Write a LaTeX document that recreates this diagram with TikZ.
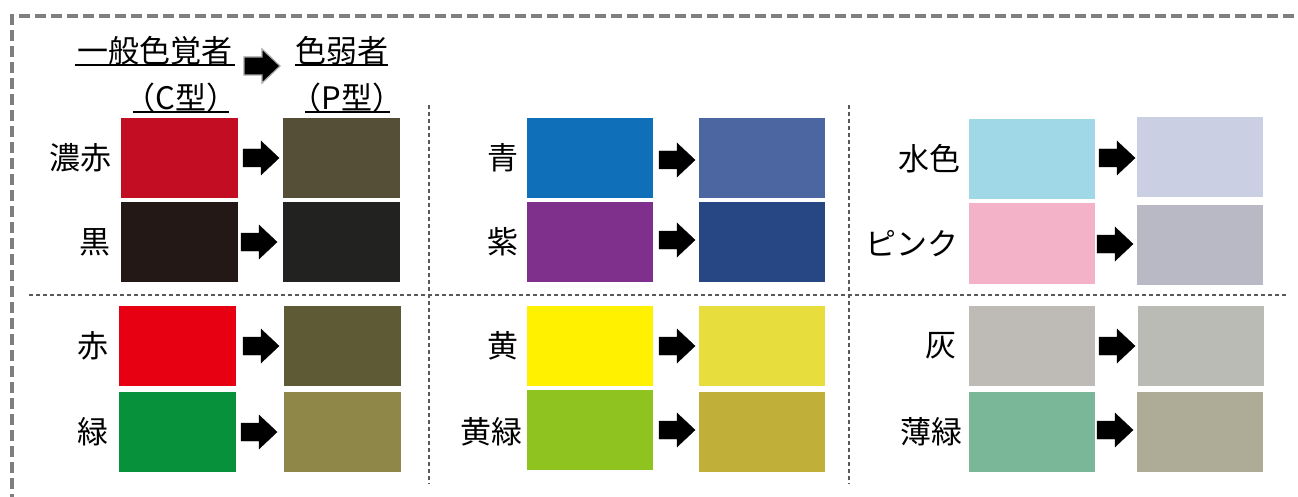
\documentclass[tikz,border=0pt]{standalone}
\usepackage{fontspec}
\setmainfont{Noto Sans CJK JP}
\definecolor{cBorder}{HTML}{7F7F7F}
\definecolor{cDiv}{HTML}{595959}
\definecolor{aA}{HTML}{C30D23}\definecolor{aB}{HTML}{544F36}
\definecolor{bA}{HTML}{231815}\definecolor{bB}{HTML}{222220}
\definecolor{cA}{HTML}{E60012}\definecolor{cB}{HTML}{5F5A36}
\definecolor{dA}{HTML}{07913A}\definecolor{dB}{HTML}{8E8747}
\definecolor{eA}{HTML}{0F6FB8}\definecolor{eB}{HTML}{4C66A2}
\definecolor{fA}{HTML}{7F2F8C}\definecolor{fB}{HTML}{264784}
\definecolor{gA}{HTML}{FFF100}\definecolor{gB}{HTML}{E7DD3C}
\definecolor{hA}{HTML}{8FC31F}\definecolor{hB}{HTML}{C0B03A}
\definecolor{iA}{HTML}{A0D8E8}\definecolor{iB}{HTML}{CBCFE3}
\definecolor{jA}{HTML}{F4B2C9}\definecolor{jB}{HTML}{B8B9C5}
\definecolor{kA}{HTML}{BEBAB6}\definecolor{kB}{HTML}{BABBB4}
\definecolor{lA}{HTML}{7AB698}\definecolor{lB}{HTML}{AEAC96}
\newcommand\blkarrow[3][black]{\filldraw[#1] (#2,#3) ++(0,-9) -- ++(18,0) -- ++(0,-8) -- ++(18,17) -- ++(-18,17) -- ++(0,-8) -- ++(-18,0) -- cycle;}
\begin{document}
\begin{tikzpicture}[x=1pt,y=-1pt,
  swatch/.style={rectangle,draw=none,inner sep=0pt,minimum height=80pt},
  narrow/.style={minimum width=117pt},
  wide/.style={minimum width=126pt},
  lbl/.style={anchor=east,inner sep=0pt,font=\fontsize{31}{31}\selectfont},
  head/.style={anchor=base,inner sep=0pt,font=\fontsize{31}{31}\selectfont},
  uline/.style={line width=2pt,black},
  divider/.style={cDiv,line width=1.2pt,dash pattern=on 4pt off 3pt},
  border/.style={cBorder,line width=3.5pt,dash pattern=on 11pt off 5pt}]
\useasboundingbox (0,0) rectangle (1298,497);
\clip (0,0) rectangle (1298,497);
\fill[white] (0,0) rectangle (1298,497);
% outer border
\draw[border] (1310,16) -- (12,16) -- (12,510);
% dividers
\draw[divider] (29,295) -- (1286,295);
\draw[divider] (429,105) -- (429,484);
\draw[divider] (849,105) -- (849,484);
% header
\node[head] (h1) at (155,63) {一般色覚者};
\node[head] (h2) at (181,110) {（C型）};
\node[head] (h3) at (341.5,63) {色弱者};
\node[head] (h4) at (347,110) {（P型）};
\draw[uline] (75,65.5) -- (235,65.5);
\draw[uline] (133,112.5) -- (229,112.5);
\draw[uline] (295,65.5) -- (388,65.5);
\draw[uline] (305,112.5) -- (390,112.5);
\blkarrow[draw=gray!70,fill=black,line width=1.2pt]{244}{66}
% group 1
\node[swatch,narrow,fill=aA] (a1) at (179.5,158) {};
\node[swatch,narrow,fill=aB] (a2) at (341.5,158) {};
\node[swatch,narrow,fill=bA] (b1) at (179.5,242) {};
\node[swatch,narrow,fill=bB] (b2) at (341.5,242) {};
\node[swatch,narrow,fill=cA] (c1) at (177,346) {};
\node[swatch,narrow,fill=cB] (c2) at (342.5,346) {};
\node[swatch,narrow,fill=dA] (d1) at (177,432) {};
\node[swatch,narrow,fill=dB] (d2) at (342.5,432) {};
\node[lbl] (la) at (112,158) {濃赤};
\node[lbl] (lb) at (111,242) {黒};
\node[lbl] (lc) at (109,346) {赤};
\node[lbl] (ld) at (109,432) {緑};
\blkarrow{243}{158}
\blkarrow{241}{242}
\blkarrow{243}{346}
\blkarrow{241}{432}
% group 2
\node[swatch,wide,fill=eA] (e1) at (590,158) {};
\node[swatch,wide,fill=eB] (e2) at (762,158) {};
\node[swatch,wide,fill=fA] (f1) at (590,242) {};
\node[swatch,wide,fill=fB] (f2) at (762,242) {};
\node[swatch,wide,fill=gA] (g1) at (589.5,346) {};
\node[swatch,wide,fill=gB] (g2) at (761.5,346) {};
\node[swatch,wide,fill=hA] (h1s) at (589.5,430) {};
\node[swatch,wide,fill=hB] (h2s) at (761.5,432) {};
\node[lbl] (le) at (519,158) {青};
\node[lbl] (lf) at (519,242) {紫};
\node[lbl] (lg) at (519,346) {黄};
\node[lbl] (lh) at (523,432) {黄緑};
\blkarrow{659}{160}
\blkarrow{659}{240}
\blkarrow{659}{346}
\blkarrow{659}{430}
% group 3
\node[swatch,wide,fill=iA] (i1) at (1032,159.5) {};
\node[swatch,wide,fill=iB] (i2) at (1200,157.5) {};
\node[swatch,wide,fill=jA] (j1) at (1032,243.5) {};
\node[swatch,wide,fill=jB] (j2) at (1200,245) {};
\node[swatch,wide,fill=kA] (k1) at (1031.5,346) {};
\node[swatch,wide,fill=kB] (k2) at (1200.5,346) {};
\node[swatch,wide,fill=lA] (l1) at (1032,432) {};
\node[swatch,wide,fill=lB] (l2) at (1200,432) {};
\node[lbl] (li) at (961,159) {水色};
\node[lbl] (lj) at (959,244) {ピンク};
\node[lbl] (lk) at (957,346) {灰};
\node[lbl] (ll) at (963,432) {薄緑};
\blkarrow{1099}{158}
\blkarrow{1097}{244}
\blkarrow{1099}{346}
\blkarrow{1097}{430}
\end{tikzpicture}
\end{document}
